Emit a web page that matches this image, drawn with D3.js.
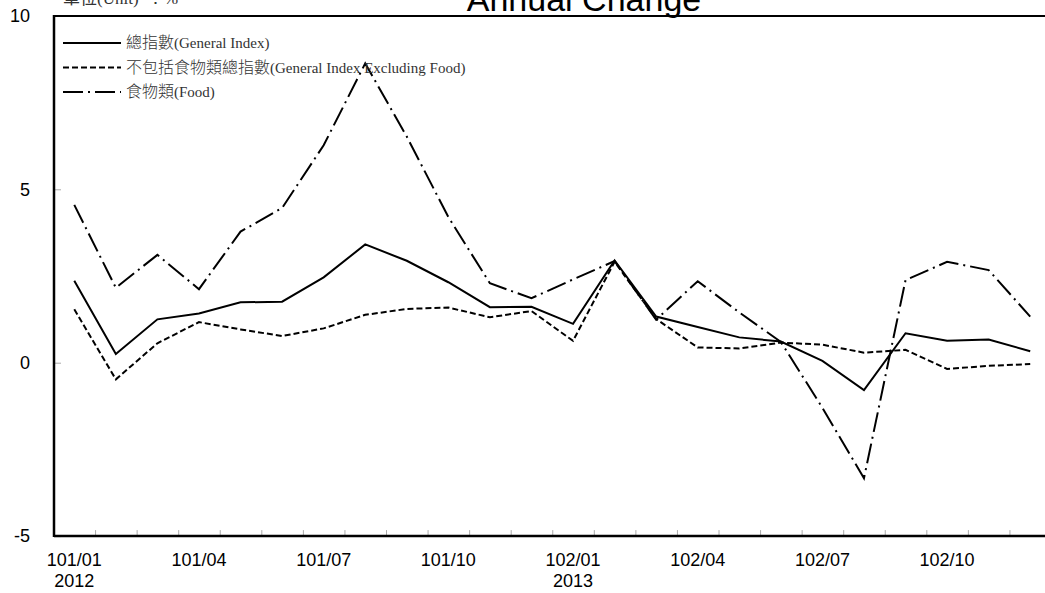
<!DOCTYPE html>
<html>
<head>
<meta charset="utf-8">
<script src="https://cdn.jsdelivr.net/npm/d3@7"></script>
<style>
	body { margin: 0; background: #fff; }
	svg { display: block; }
	.tick line { stroke: #aaa; }
	.domain { display: none; }
</style>
</head>
<body>
<script>
// months on the x axis (ROC year/month)
const months = ["101/01", "101/02", "101/03", "101/04", "101/05", "101/06",
	"101/07", "101/08", "101/09", "101/10", "101/11", "101/12",
	"102/01", "102/02", "102/03", "102/04", "102/05", "102/06",
	"102/07", "102/08", "102/09", "102/10", "102/11", "102/12"]
const labelMonths = ["101/01", "101/04", "101/07", "101/10", "102/01", "102/04", "102/07", "102/10"]
const yearLabels = { "101/01": "2012", "102/01": "2013" }
const yTicks = [-5, 0, 5, 10]

// annual change in %
const generalIndex = [2.36, 0.25, 1.25, 1.42, 1.74, 1.76, 2.46, 3.41, 2.94, 2.32, 1.60, 1.61,
	1.12, 2.95, 1.33, 1.03, 0.73, 0.61, 0.05, -0.79, 0.85, 0.63, 0.67, 0.33]
const excludingFood = [1.54, -0.48, 0.56, 1.17, 0.96, 0.77, 0.99, 1.38, 1.55, 1.59, 1.31, 1.49,
	0.63, 2.91, 1.26, 0.44, 0.41, 0.58, 0.52, 0.29, 0.37, -0.18, -0.09, -0.04]
const food = [4.55, 2.16, 3.11, 2.12, 3.78, 4.46, 6.27, 8.63, 6.52, 4.20, 2.29, 1.86,
	2.40, 2.93, 1.24, 2.35, 1.45, 0.60, -1.30, -3.33, 2.38, 2.91, 2.67, 1.33]

// legend names, split in chinese and english part
const seriesNames = [
	["總指數", "(General Index)"],
	["不包括食物類總指數", "(General Index Excluding Food)"],
	["食物類", "(Food)"]
]

const width = 1045,
	height = 593
const plotLeft = 54,
	plotRight = 1051,
	plotTop = 15.9,
	plotBottom = 536.1

const svg = d3.select("body").append("svg")
	.attr("width", width)
	.attr("height", height)

const x = d3.scaleBand()
	.domain(months)
	.range([plotLeft - 0.5, plotRight])

// linear scale over month index for the boundary ticks
const xEdge = d3.scaleLinear()
	.domain([0, months.length])
	.range([plotLeft - 0.5, plotRight])

const y = d3.scaleLinear()
	.domain([-5, 10])
	.range([plotBottom, plotTop])

// small tick marks on the y axis (inside)
svg.append("g")
	.attr("transform", "translate(" + plotLeft + ",0)")
	.call(d3.axisRight(y).tickValues(yTicks).tickSize(7).tickFormat(""))

// y labels, plain hyphen for the minus like the original
svg.append("g")
	.attr("transform", "translate(" + plotLeft + ",0)")
	.call(d3.axisLeft(y).tickValues(yTicks).tickSize(0).tickPadding(24).tickFormat(d => String(d)))
	.call(g => g.selectAll("text")
		.attr("font-family", "Arial, 'Liberation Sans', sans-serif")
		.attr("font-size", 18)
		.attr("fill", "#000"))

// month boundary ticks on the x axis
svg.append("g")
	.attr("transform", "translate(0," + plotBottom + ")")
	.call(d3.axisTop(xEdge).tickValues(d3.range(1, months.length + 1)).tickSize(6).tickFormat(""))

// x labels
const xAxis = svg.append("g")
	.attr("transform", "translate(0," + plotBottom + ")")
	.call(d3.axisBottom(x).tickValues(labelMonths).tickSize(0).tickPadding(17))
xAxis.selectAll("text")
	.attr("font-family", "Arial, 'Liberation Sans', sans-serif")
	.attr("font-size", 18)
	.attr("fill", "#000")
xAxis.selectAll(".tick").filter(d => yearLabels[d])
	.append("text")
	.attr("y", 51)
	.attr("text-anchor", "middle")
	.attr("font-family", "Arial, 'Liberation Sans', sans-serif")
	.attr("font-size", 18)
	.attr("fill", "#000")
	.text(d => yearLabels[d])

// frame: left, top and bottom lines
svg.append("line")
	.attr("x1", plotLeft).attr("x2", plotLeft)
	.attr("y1", plotTop - 1).attr("y2", plotBottom + 1)
	.attr("stroke", "#000").attr("stroke-width", 2.5)
svg.append("line")
	.attr("x1", plotLeft).attr("x2", width)
	.attr("y1", plotTop).attr("y2", plotTop)
	.attr("stroke", "#000").attr("stroke-width", 2)
svg.append("line")
	.attr("x1", plotLeft).attr("x2", width)
	.attr("y1", plotBottom).attr("y2", plotBottom)
	.attr("stroke", "#000").attr("stroke-width", 2.5)

const dashes = [null, "6,3", "20,5,2,5"]
const allSeries = [generalIndex, excludingFood, food]

const line = d3.line()
	.x((d, i) => x(months[i]) + x.bandwidth() / 2)
	.y(d => y(d))

svg.selectAll(".series")
	.data(allSeries)
	.enter().append("path")
	.attr("class", "series")
	.attr("d", line)
	.attr("fill", "none")
	.attr("stroke", "#000")
	.attr("stroke-width", 2)
	.attr("stroke-linejoin", "miter")
	.attr("stroke-dasharray", (d, i) => dashes[i])

// legend
const legend = svg.selectAll(".legend")
	.data(seriesNames)
	.enter().append("g")
	.attr("class", "legend")
	.attr("transform", (d, i) => "translate(63," + (43 + i * 24.5) + ")")

legend.append("line")
	.attr("x1", 0).attr("x2", 58)
	.attr("stroke", "#000")
	.attr("stroke-width", 2)
	.attr("stroke-dasharray", (d, i) => dashes[i])

const legendText = legend.append("text")
	.attr("x", 63)
	.attr("y", 5)
	.attr("fill", "#333")
legendText.append("tspan")
	.attr("font-family", "'Noto Sans CJK TC', sans-serif")
	.attr("font-size", 16)
	.attr("font-weight", 300)
	.text(d => d[0])
legendText.append("tspan")
	.attr("font-family", "'Liberation Serif', 'Times New Roman', serif")
	.attr("font-size", 15)
	.text(d => d[1])

// title and unit (cut by the top edge, as in the original)
svg.append("text")
	.attr("x", 584)
	.attr("y", 10.5)
	.attr("text-anchor", "middle")
	.attr("font-family", "Arial, 'Liberation Sans', sans-serif")
	.attr("font-size", 34)
	.text("Annual Change")

const unit = svg.append("text")
	.attr("x", 63)
	.attr("y", 4)
	.attr("fill", "#333")
unit.append("tspan")
	.attr("font-family", "'Noto Sans CJK TC', sans-serif")
	.attr("font-size", 17)
	.text("單位")
unit.append("tspan")
	.attr("font-family", "'Liberation Serif', serif")
	.attr("font-size", 17)
	.text("(Unit)\u00a0\u00a0：%")
</script>
</body>
</html>
